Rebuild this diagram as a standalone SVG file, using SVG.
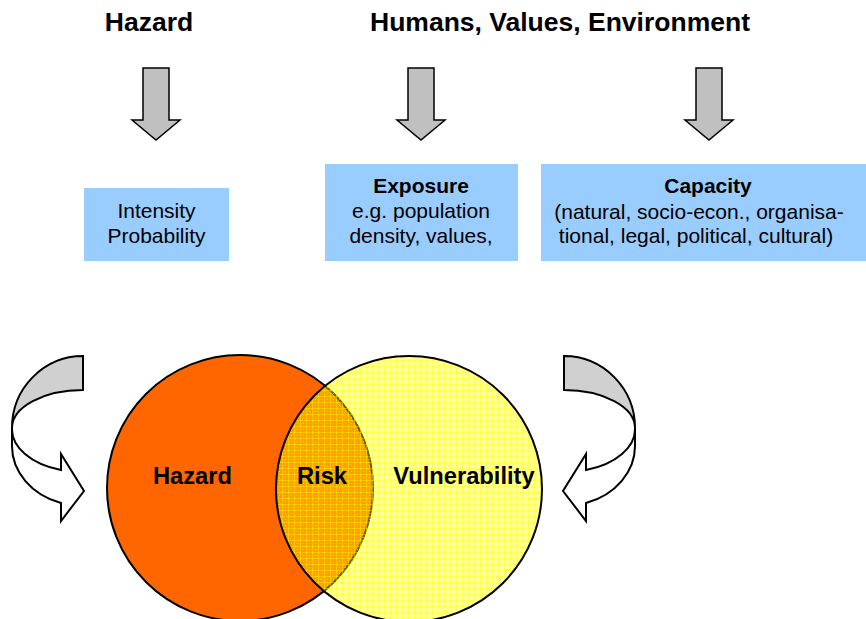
<svg xmlns="http://www.w3.org/2000/svg" xmlns:xlink="http://www.w3.org/1999/xlink" width="866" height="619" viewBox="0 0 866 619">
<style>
  .hdr { font-family: "Liberation Sans", Arial, sans-serif; font-weight: bold; font-size: 26.5px; fill: #000; text-anchor: middle; }
  .box { fill: #99ccff; stroke: none; }
  .bt { font-family: "Liberation Sans", Arial, sans-serif; font-size: 21px; fill: #000; text-anchor: middle; }
  .bb { font-weight: bold; }
  .down { fill: #c0c0c0; stroke: #000; stroke-width: 1.5; stroke-linejoin: miter; }
  .lbl { font-family: "Liberation Sans", Arial, sans-serif; font-weight: bold; font-size: 23.7px; fill: #000; text-anchor: middle; }
  .back { fill: #d0d0d0; stroke: #000; stroke-width: 2; stroke-linejoin: miter; }
  .front { fill: #fff; stroke: #000; stroke-width: 2; stroke-linejoin: miter; }
</style>
<defs>
  <pattern id="yel" width="6" height="6" patternUnits="userSpaceOnUse">
    <rect width="6" height="6" fill="#ffff00" fill-opacity="0.38"/>
    <rect x="0" y="0" width="6" height="1" fill="#ffff00" fill-opacity="0.4"/>
    <rect x="0" y="0" width="1" height="6" fill="#ffff00" fill-opacity="0.4"/>
    <rect x="3" y="3" width="1" height="1" fill="#ffffff" fill-opacity="0.5"/>
  </pattern>
  <path id="darrow" d="M-13,0 L13,0 L13,52 L24,52 L0,72 L-24,52 L-13,52 Z"/>
  <g id="curved">
    <path class="back" d="M83,356 A71,72 0 0 0 12,428 A71,38 0 0 1 83,390 Z"/>
    <path class="front" d="M12,428 A71,43 0 0 0 61,470 L61,454 L84,491 L61,521 L61,503 A71,60 0 0 1 12,445 Z"/>
  </g>
</defs>

<g id="header-hazard"><text class="hdr" x="149" y="31">Hazard</text></g>
<g id="header-humans"><text class="hdr" x="560" y="31">Humans, Values, Environment</text></g>

<g id="connectors">
  <use href="#darrow" class="down" transform="translate(156,68)"/>
  <use href="#darrow" class="down" transform="translate(421,68)"/>
  <use href="#darrow" class="down" transform="translate(709,68)"/>
  <use href="#curved"/>
  <use href="#curved" transform="translate(647,0) scale(-1,1)"/>
</g>

<g id="box-intensity">
  <rect class="box" x="84" y="188" width="145" height="73"/>
  <text class="bt" x="156.5" y="218">Intensity</text>
  <text class="bt" x="156.5" y="243">Probability</text>
</g>
<g id="box-exposure">
  <rect class="box" x="325" y="164" width="193" height="97"/>
  <text class="bt bb" x="421" y="193">Exposure</text>
  <text class="bt" x="421" y="218">e.g. population</text>
  <text class="bt" x="421" y="243">density, values,</text>
</g>
<g id="box-capacity">
  <rect class="box" x="541" y="164" width="325" height="97"/>
  <text class="bt bb" x="708" y="193">Capacity</text>
  <text class="bt" x="699" y="219">(natural, socio-econ., organisa-</text>
  <text class="bt" x="696" y="243">tional, legal, political, cultural)</text>
</g>

<g id="venn-hazard">
  <circle cx="240" cy="488" r="133" fill="#ff6600" stroke="#000" stroke-width="2"/>
</g>
<g id="venn-vulnerability">
  <circle cx="409" cy="489" r="133" fill="url(#yel)" stroke="#000" stroke-width="2"/>
</g>
<g id="labels">
  <text class="lbl" x="192.5" y="484">Hazard</text>
  <text class="lbl" x="322" y="484">Risk</text>
  <text class="lbl" x="464" y="484">Vulnerability</text>
</g>
</svg>
